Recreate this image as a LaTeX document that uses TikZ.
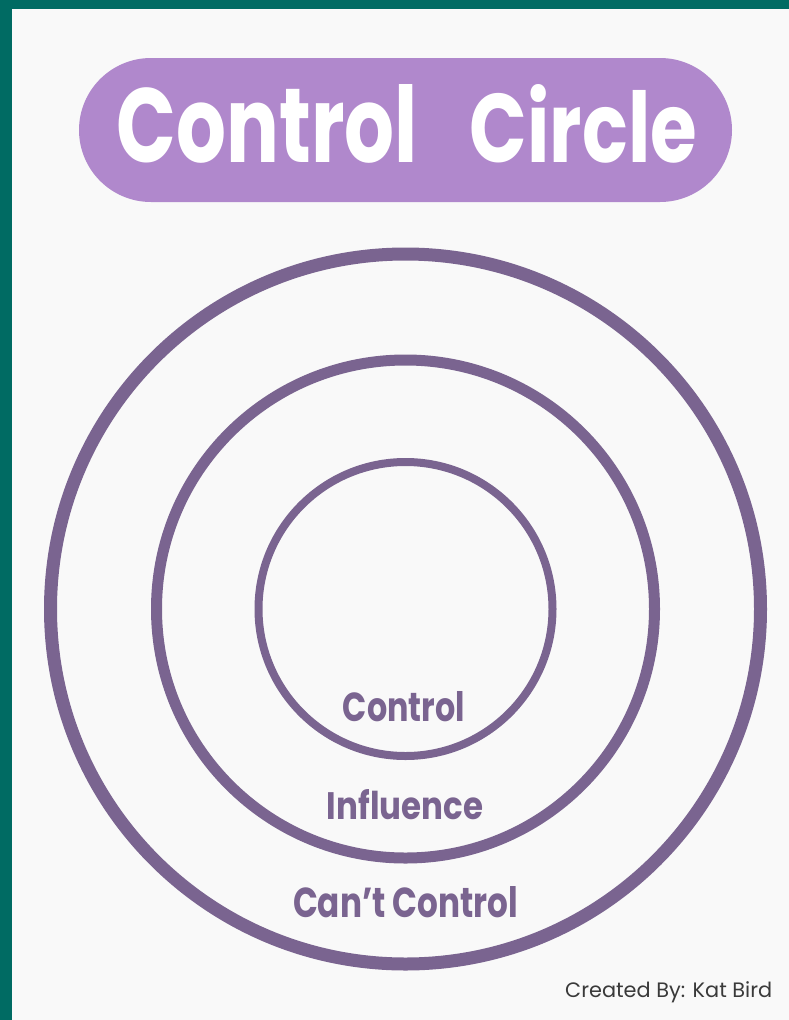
\documentclass[tikz,border=0pt]{standalone}
\usepackage{fontspec}
\setmainfont{Poppins}
\usepackage{graphicx}
\definecolor{bgc}{HTML}{F9F9F9}
\definecolor{teal}{HTML}{006B63}
\definecolor{pill}{HTML}{B088CC}
\definecolor{ring}{HTML}{7A6490}
\definecolor{credit}{HTML}{3A3A3A}
\tikzset{
  lbl/.style={inner sep=0pt, text=ring, font=\bfseries},
  ttl/.style={inner sep=0pt, text=white},
  ringline/.style={draw=ring},
}
\begin{document}
\begin{tikzpicture}[x=1pt,y=-1pt]
\useasboundingbox (0,0) rectangle (789,1020);
\fill[bgc] (0,0) rectangle (789,1020);
\fill[teal] (0,0) rectangle (789,9);
\fill[teal] (0,0) rectangle (12,1020);
% title pill
\fill[pill, rounded corners=72pt] (79,58) rectangle (732,202);
\node[ttl] (title1) at (267.5,124) {\resizebox{301pt}{78pt}{\bfseries Control}};
\node[ttl] (title2) at (583.5,124) {\resizebox{227pt}{78pt}{\bfseries Circle}};
% circles
\coordinate (c) at (405.5,609);
\draw[ringline, line width=13pt] (c) circle (355);
\draw[ringline, line width=11pt] (c) circle (249);
\draw[ringline, line width=8pt] (c) circle (147);
% labels
\node[lbl] (ctrl) at (404,707) {\resizebox{122pt}{30pt}{\bfseries Control}};
\node[lbl] (infl) at (405,805) {\resizebox{156pt}{30pt}{\bfseries Influence}};
\node[lbl] (cant) at (405.5,902.5) {\resizebox{225pt}{31pt}{\bfseries Can’t Control}};
\node[inner sep=0pt, anchor=base west, text=credit] (credit) at (565,997) {\resizebox{207pt}{!}{Created By: Kat Bird}};
\end{tikzpicture}
\end{document}
